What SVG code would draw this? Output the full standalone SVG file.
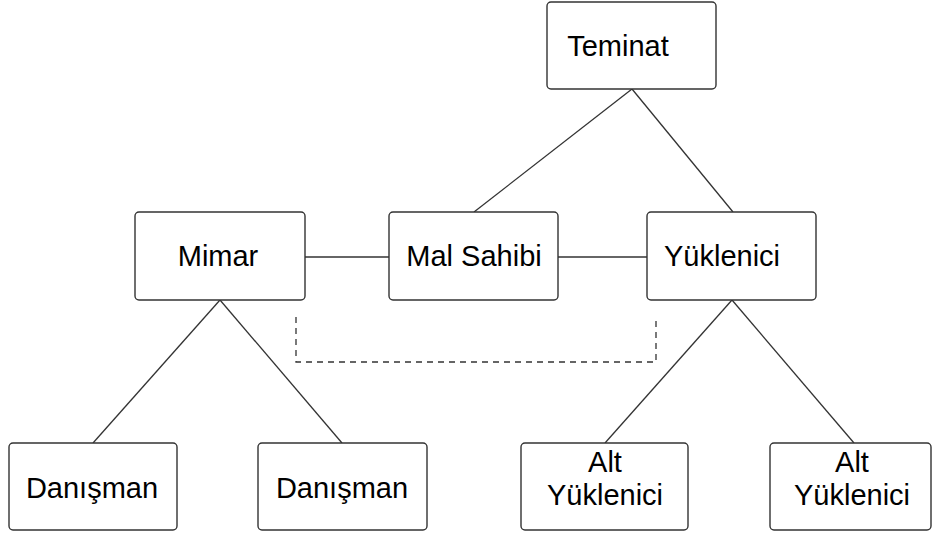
<svg xmlns="http://www.w3.org/2000/svg" width="933" height="533" viewBox="0 0 933 533">
<style>
.box{fill:#fff;stroke:#333;stroke-width:1.4}
.t{font-family:"Liberation Sans",Arial,sans-serif;font-size:29px;fill:#000;text-anchor:middle}
.c{fill:none;stroke:#333;stroke-width:1.3}
.d{fill:none;stroke:#333;stroke-width:1.3;stroke-dasharray:6,5}
</style>
<rect width="933" height="533" fill="#fff"/>
<g id="connectors">
<line class="c" x1="632" y1="89" x2="474" y2="212"/>
<line class="c" x1="632" y1="89" x2="733" y2="212"/>
<line class="c" x1="305" y1="257" x2="389" y2="257"/>
<line class="c" x1="558" y1="257" x2="647" y2="257"/>
<line class="c" x1="220" y1="300" x2="93" y2="443"/>
<line class="c" x1="220" y1="300" x2="342" y2="443"/>
<line class="c" x1="732" y1="300" x2="605" y2="443"/>
<line class="c" x1="732" y1="300" x2="854" y2="443"/>
<polyline class="d" points="296,317 296,362 656,362 656,317"/>
</g>
<g id="teminat"><rect class="box" x="547" y="2" width="169" height="87" rx="4"/><text class="t" x="618" y="56">Teminat</text></g>
<g id="mimar"><rect class="box" x="135" y="212" width="170" height="88" rx="4"/><text class="t" x="218" y="266">Mimar</text></g>
<g id="malsahibi"><rect class="box" x="389" y="212" width="169" height="88" rx="4"/><text class="t" x="474" y="266">Mal Sahibi</text></g>
<g id="yuklenici"><rect class="box" x="647" y="212" width="169" height="88" rx="4"/><text class="t" x="722" y="266">Yüklenici</text></g>
<g id="danisman1"><rect class="box" x="9" y="443" width="168" height="87" rx="4"/><text class="t" x="92" y="498">Danışman</text></g>
<g id="danisman2"><rect class="box" x="258" y="443" width="169" height="87" rx="4"/><text class="t" x="342" y="498">Danışman</text></g>
<g id="alt1"><rect class="box" x="521" y="443" width="167" height="87" rx="4"/><text class="t" x="605" y="472">Alt</text><text class="t" x="605" y="505">Yüklenici</text></g>
<g id="alt2"><rect class="box" x="770" y="443" width="161" height="87" rx="4"/><text class="t" x="852" y="472">Alt</text><text class="t" x="852" y="505">Yüklenici</text></g>
</svg>
